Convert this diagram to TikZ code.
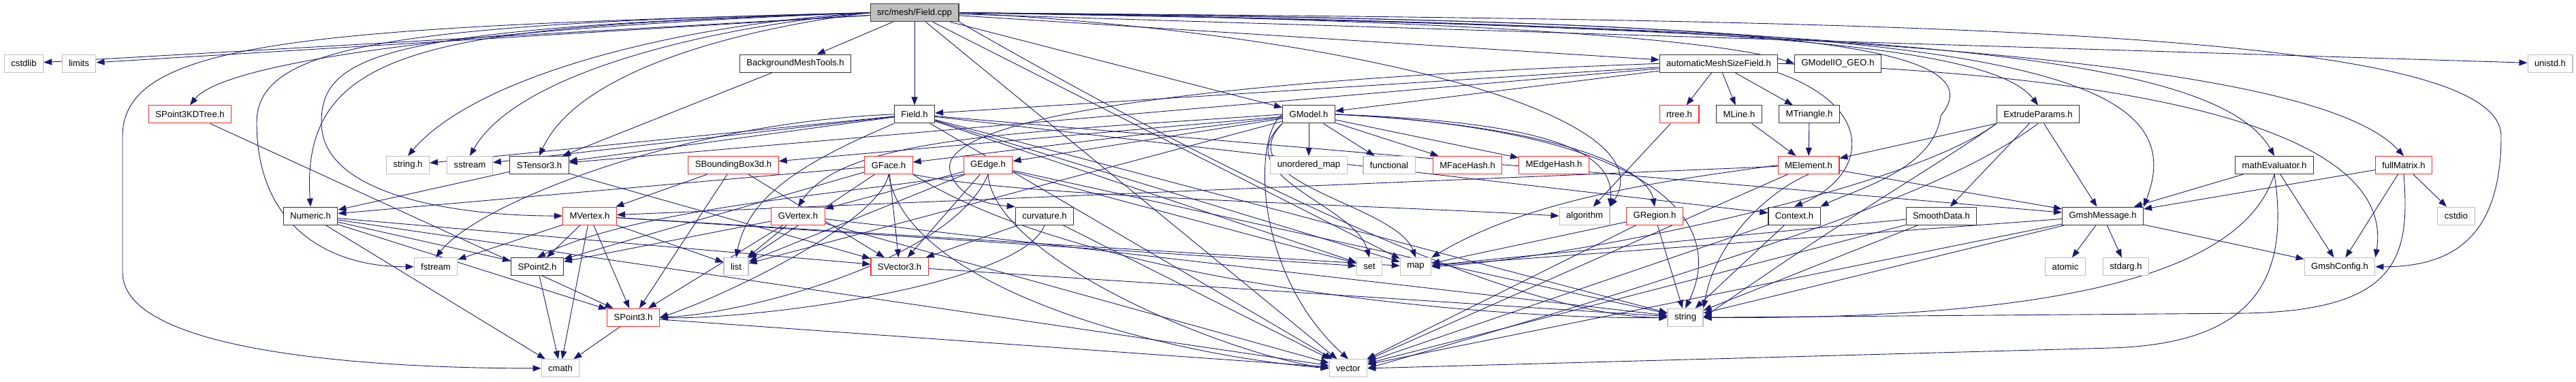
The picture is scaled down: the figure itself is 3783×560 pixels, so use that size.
\documentclass[tikz,border=0pt]{standalone}
\usepackage{fontspec}
\setmainfont{Liberation Sans}
\usetikzlibrary{arrows.meta,backgrounds}
\definecolor{edgeblue}{RGB}{25,25,112}
\definecolor{sysgray}{RGB}{191,191,191}
\definecolor{truncred}{RGB}{255,40,40}

\begin{document}
\begin{tikzpicture}[
  x=1pt,y=-1pt,
  file/.style={draw=black!80,line width=1.1pt,fill=white,minimum height=26pt,
    inner xsep=10pt,inner ysep=0pt,font=\fontsize{13.1}{15}\selectfont},
  sysfile/.style={file,draw=sysgray},
  trunc/.style={file,draw=truncred},
  root/.style={file,fill=sysgray,draw=black!75},
  dep/.style={draw=edgeblue,line width=0.9pt,-{Triangle[length=12pt,width=9pt]}}
]
  \useasboundingbox (0,0) rectangle (3783,560);
  % Row 0
  \node[root] (cpp) at (1343,18.7) {src/mesh/Field.cpp};
  % Row 1
  \node[sysfile] (cstdlib) at (35,93.3) {cstdlib};
  \node[sysfile] (limits) at (116,93.3) {limits};
  \node[file] (bgmt) at (1168,93.3) {BackgroundMeshTools.h};
  \node[file] (amsf) at (2524,93.3) {automaticMeshSizeField.h};
  \node[file] (geo) at (2699,93.3) {GModelIO\_GEO.h};
  \node[sysfile] (unistd) at (3745,93.3) {unistd.h};
  % Row 2
  \node[trunc] (kdtree) at (279,167.9) {SPoint3KDTree.h};
  \node[file] (fieldh) at (1343,167.9) {Field.h};
  \node[file] (gmodel) at (1922,167.9) {GModel.h};
  \node[trunc] (rtree) at (2466,167.9) {rtree.h};
  \node[file] (mline) at (2554,167.9) {MLine.h};
  \node[file] (mtri) at (2657,167.9) {MTriangle.h};
  \node[file] (extrude) at (2993,167.9) {ExtrudeParams.h};
  % Row 3
  \node[sysfile] (stringh) at (599,242.5) {string.h};
  \node[sysfile] (sstream) at (690,242.5) {sstream};
  \node[file] (stensor) at (792,242.5) {STensor3.h};
  \node[trunc] (sbb) at (1077,242.5) {SBoundingBox3d.h};
  \node[trunc] (gface) at (1305,242.5) {GFace.h};
  \node[trunc] (gedge) at (1451,242.5) {GEdge.h};
  \node[sysfile] (umap) at (1922,242.5) {unordered\_map};
  \node[sysfile] (functional) at (2040,242.5) {functional};
  \node[trunc] (mfh) at (2155,242.5) {MFaceHash.h};
  \node[trunc] (meh) at (2282,242.5) {MEdgeHash.h};
  \node[trunc] (melem) at (2656,242.5) {MElement.h};
  \node[file] (matheval) at (3340,242.5) {mathEvaluator.h};
  \node[trunc] (fullmat) at (3530,242.5) {fullMatrix.h};
  % Row 4
  \node[file] (numeric) at (456,317.1) {Numeric.h};
  \node[trunc] (mvertex) at (866,317.1) {MVertex.h};
  \node[trunc] (gvertex) at (1172,317.1) {GVertex.h};
  \node[file] (curv) at (1534,317.1) {curvature.h};
  \node[sysfile] (algorithm) at (2327,317.1) {algorithm};
  \node[trunc] (gregion) at (2430,317.1) {GRegion.h};
  \node[file] (context) at (2635,317.1) {Context.h};
  \node[file] (smooth) at (2851,317.1) {SmoothData.h};
  \node[file] (gmsg) at (3088,317.1) {GmshMessage.h};
  \node[sysfile] (cstdio) at (3607,317.1) {cstdio};
  % Row 5
  \node[sysfile] (fstream) at (640,391.7) {fstream};
  \node[file] (spoint2) at (789,391.7) {SPoint2.h};
  \node[sysfile] (list) at (1081,391.7) {list};
  \node[trunc] (svector) at (1321,391.7) {SVector3.h};
  \node[sysfile] (set) at (2011,391.7) {set};
  \node[sysfile] (map) at (2079,391.7) {map};
  \node[sysfile] (atomic) at (3033,391.7) {atomic};
  \node[sysfile] (stdarg) at (3122,391.7) {stdarg.h};
  \node[sysfile] (gconfig) at (3436,391.7) {GmshConfig.h};
  % Row 6
  \node[trunc] (spoint3) at (930,466.3) {SPoint3.h};
  \node[sysfile] (string) at (2475,466.3) {string};
  % Row 7
  \node[sysfile] (cmath) at (823,540.9) {cmath};
  \node[sysfile] (vector) at (1980,540.9) {vector};

  \begin{scope}[on background layer]
    % Field.cpp
    \foreach \dst in {cstdlib,limits,bgmt,amsf,unistd,fieldh,gmodel,map,vector}
      \draw[dep] (cpp) -- (\dst);
    \draw[dep] (cpp.west) .. controls (1000,35) and (700,110) .. (stringh.north);
    \draw[dep] (cpp.west) .. controls (1050,38) and (760,105) .. (sstream.north);
    \draw[dep] (cpp.west) .. controls (1100,40) and (850,100) .. (stensor.north);
    \draw[dep] (cpp.west) .. controls (700,40) and (330,90) .. (kdtree.north);
    \draw[dep] (cpp.west) .. controls (650,40) and (440,60) .. (numeric.north);
    \draw[dep] (cpp.west) .. controls (560,35) and (377,70) .. (377,180)
                          .. controls (377,330) and (480,392) .. (fstream.west);
    \draw[dep] (cpp.west) .. controls (450,40) and (180,60) .. (180,200) -- (180,400)
                          .. controls (180,520) and (560,541) .. (cmath.west);
    \draw[dep] (cpp.west) .. controls (560,40) and (472,80) .. (472,180)
                          .. controls (472,290) and (680,317) .. (mvertex.west);
    \draw[dep] (cpp.east) .. controls (2000,25) and (2500,50) .. (geo.west);
    \draw[dep] (cpp.east) .. controls (2000,50) and (2450,170) .. (algorithm.north east);
    \draw[dep] (cpp.south east) .. controls (1700,200) and (2200,466) .. (string.west);
    \draw[dep] (cpp.east) .. controls (2800,30) and (3673,40) .. (3673,200)
                          .. controls (3673,350) and (3600,392) .. (gconfig.east);
    \draw[dep] (cpp.east) .. controls (2500,30) and (2950,50) .. (2850,170)
                          .. controls (2840,250) and (2720,280) .. (context.north east);
    \draw[dep] (cpp.east) .. controls (2500,35) and (2920,60) .. (extrude.north);
    \draw[dep] (cpp.east) .. controls (2700,40) and (3250,70) .. (matheval.north);
    \draw[dep] (cpp.east) .. controls (2900,40) and (3420,110) .. (fullmat.north);
    \draw[dep] (cpp.east) .. controls (2900,30) and (3230,90) .. (gmsg.north east);
    % first level headers
    \draw[dep] (bgmt) -- (stensor);
    \draw[dep] (kdtree) -- (spoint3);
    \foreach \dst in {fieldh,gmodel,stensor,rtree,mline,mtri}
      \draw[dep] (amsf) -- (\dst);
    \draw[dep] (amsf.west) .. controls (1700,120) and (1380,180) .. (1395,250)
                           .. controls (1405,290) and (1450,300) .. (curv.north west);
    \draw[dep] (amsf.south east) .. controls (2760,160) and (2740,260) .. (context.north);
    \draw[dep] (amsf.east) .. controls (3100,110) and (3520,180) .. (gconfig.north east);
    \foreach \dst in {stringh,sstream,stensor,set,map,vector,string,context,gmsg}
      \draw[dep] (fieldh) -- (\dst);
    \draw[dep] (fieldh.west) .. controls (1000,180) and (700,300) .. (fstream.north);
    \draw[dep] (fieldh.south west) .. controls (1200,230) and (1100,280) .. (list.north);
    \foreach \dst in {umap,functional,mfh,meh,gface,gedge,sbb,list}
      \draw[dep] (gmodel) -- (\dst);
    \draw[dep] (gmodel.west) .. controls (1500,195) and (1240,200) .. (gvertex.north);
    \draw[dep] (gmodel.west) .. controls (1840,200) and (1840,400) .. (vector.north);
    \draw[dep] (gmodel.south west) .. controls (1800,260) and (1990,300) .. (set.north);
    \draw[dep] (gmodel.south west) .. controls (1800,270) and (2050,300) .. (map.north);
    \draw[dep] (gmodel.east) .. controls (2300,180) and (2370,230) .. (algorithm.north east);
    \draw[dep] (gmodel.east) .. controls (2300,185) and (2420,250) .. (gregion.north);
    \draw[dep] (gmodel.east) .. controls (2420,190) and (2540,320) .. (string.north);
    \draw[dep] (rtree) -- (algorithm);
    \draw[dep] (mline) -- (melem);
    \draw[dep] (mtri) -- (melem);
    \foreach \dst in {melem,smooth,gmsg}
      \draw[dep] (extrude) -- (\dst);
    \draw[dep] (extrude.south west) .. controls (2850,240) and (2740,300) .. (string.east);
    \draw[dep] (extrude.south) .. controls (2900,250) and (2740,330) .. (vector.east);
    \draw[dep] (extrude.south west) .. controls (2800,280) and (2300,380) .. (map.east);
    % second level headers
    \draw[dep] (stensor) -- (numeric);
    \draw[dep] (stensor) -- (svector);
    \foreach \dst in {svector,spoint3,mvertex}
      \draw[dep] (sbb) -- (\dst);
    \foreach \dst in {numeric,spoint2,svector,list}
      \draw[dep] (gface) -- (\dst);
    \draw[dep] (gface.south) .. controls (1290,330) and (1050,440) .. (spoint3.east);
    \draw[dep] (gface.south east) .. controls (1600,420) and (2200,470) .. (string.west);
    \draw[dep] (gface.south) .. controls (1330,420) and (1700,520) .. (vector.west);
    \draw[dep] (gface.south east) .. controls (1500,290) and (2000,300) .. (algorithm.west);
    \foreach \dst in {gvertex,svector,list,string,set}
      \draw[dep] (gedge) -- (\dst);
    \draw[dep] (gedge.south west) .. controls (1300,280) and (950,300) .. (spoint2.north);
    \draw[dep] (gedge.south) .. controls (1400,380) and (1100,460) .. (spoint3.east);
    \draw[dep] (gedge.south) .. controls (1460,380) and (1800,520) .. (vector.west);
    \foreach \dst in {mvertex,gmsg,vector}
      \draw[dep] (melem) -- (\dst);
    \draw[dep] (melem.south) .. controls (2600,280) and (2520,350) .. (string.north east);
    \draw[dep] (melem.west) .. controls (2450,265) and (2250,290) .. (map.north east);
    \draw[dep] (matheval) -- (gmsg);
    \draw[dep] (matheval) -- (gconfig);
    \draw[dep] (matheval.south) .. controls (3300,380) and (3100,470) .. (string.east);
    \draw[dep] (matheval.south) .. controls (3365,420) and (3300,505) .. (3100,511)
                                -- (vector.east);
    \foreach \dst in {gmsg,gconfig,cstdio}
      \draw[dep] (fullmat) -- (\dst);
    \draw[dep] (fullmat.south) .. controls (3540,380) and (3520,455) .. (3300,460)
                               -- (string.east);
    % third level headers
    \foreach \dst in {cmath,vector,spoint3,svector,spoint2}
      \draw[dep] (numeric) -- (\dst);
    \foreach \dst in {spoint2,spoint3,cmath,fstream,list,set,map}
      \draw[dep] (mvertex) -- (\dst);
    \foreach \dst in {list,spoint2,spoint3,string,vector}
      \draw[dep] (gvertex) -- (\dst);
    \draw[dep] (curv) -- (svector);
    \draw[dep] (curv) -- (vector);
    \draw[dep] (curv.south) .. controls (1500,420) and (1100,470) .. (spoint3.east);
    \foreach \dst in {map,vector,string}
      \draw[dep] (gregion) -- (\dst);
    \draw[dep] (context) -- (string);
    \draw[dep] (context) -- (vector);
    \foreach \dst in {string,vector,map}
      \draw[dep] (smooth) -- (\dst);
    \foreach \dst in {atomic,stdarg,gconfig,string,vector,map}
      \draw[dep] (gmsg) -- (\dst);
    % points and vectors
    \draw[dep] (svector) -- (string);
    \draw[dep] (spoint3) -- (cmath);
    \draw[dep] (spoint3) -- (vector);
    \draw[dep] (spoint2) -- (cmath);
  \end{scope}
\end{tikzpicture}
\end{document}
